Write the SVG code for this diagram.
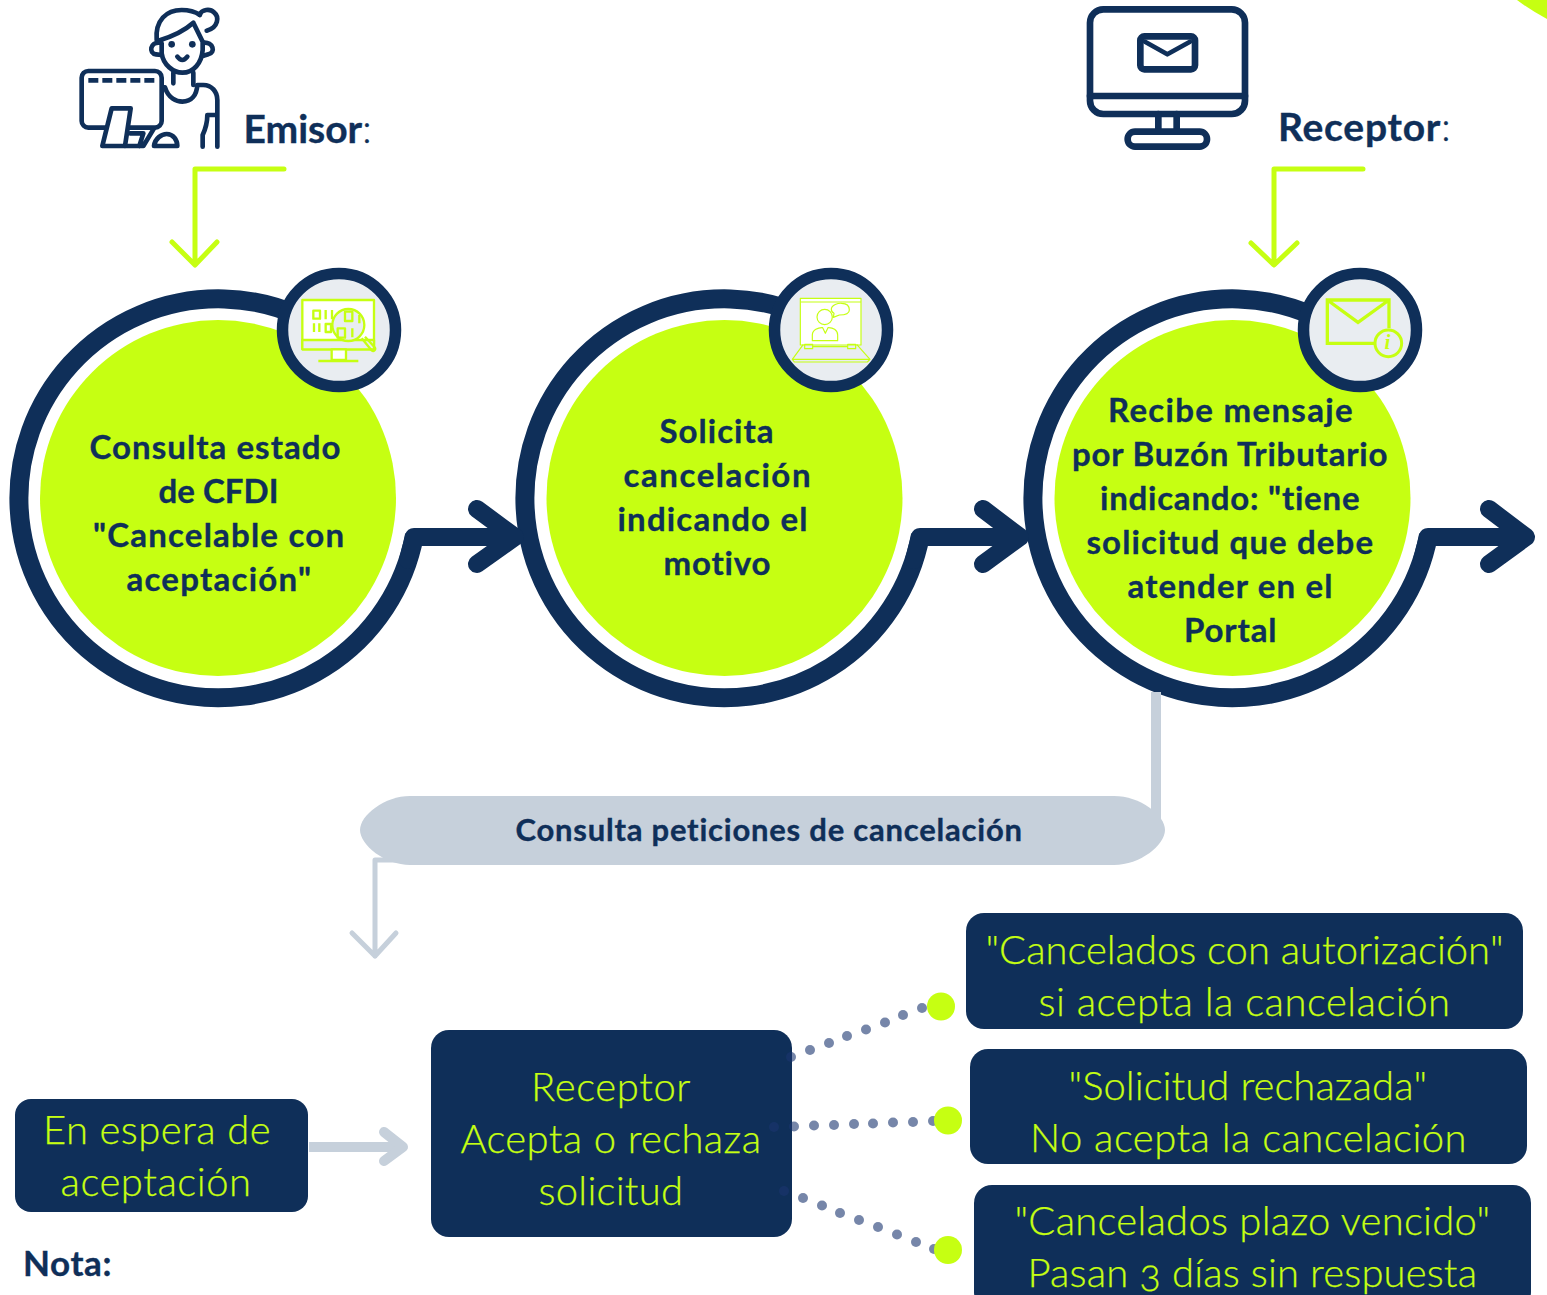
<svg xmlns="http://www.w3.org/2000/svg" width="1547" height="1295" viewBox="0 0 1547 1295">
<style>
text{font-family:"Lato","Liberation Sans",sans-serif;font-variant-ligatures:none;font-variant-numeric:oldstyle-nums}
.b{font-weight:700;fill:#0f2f59;font-size:33px;stroke:#0f2f59;stroke-width:.35}
.l{font-weight:300;fill:#c6ff12;font-size:40px;stroke:#c6ff12;stroke-width:.25}
.ring{fill:none;stroke:#0f2f59;stroke-width:19}
.disc{fill:#c6ff12}
.badge{fill:#e9edf1;stroke:#0f2f59;stroke-width:11.5}
.box{fill:#0f2f59}
.ic{fill:none;stroke:#c6ff12;stroke-linejoin:round}
.nv{fill:none;stroke:#0f2f59;stroke-linejoin:round;stroke-linecap:round}
.arr{fill:none;stroke:#0f2f59;stroke-width:18;stroke-linecap:round;stroke-linejoin:round}
.gl{fill:none;stroke:#c6ff12;stroke-width:5;stroke-linecap:round;stroke-linejoin:round}
.gy{fill:none;stroke:#c6d0db;stroke-linejoin:round}
.d{fill:#1a3570;opacity:.6}
.e{fill:#c6ff12}
</style>
<path d="M1517 0Q1530 10 1547 19V0Z" fill="#c6ff12"/>

<g id="emisor">
<g transform="translate(60 0) scale(.33333)" class="nv" stroke-width="14">
<path d="M290 120C285 60 320 30 365 30C385 30 405 35 420 45"/>
<path d="M418 44C426 28 450 25 462 37C478 50 476 82 440 92"/>
<path d="M295 122C335 110 370 95 400 68L428 125V150C425 190 400 218 367 218C340 218 310 195 305 160V130"/>
<path d="M300 128C270 125 265 160 288 163L305 165M430 128C460 125 468 158 445 163L428 168"/>
<circle cx="335" cy="133" r="10" fill="#0f2f59" stroke="none"/><circle cx="397" cy="133" r="10" fill="#0f2f59" stroke="none"/>
<path d="M352 170Q367 190 382 170"/>
<path d="M340 218V250M400 218V255"/>
<path d="M315 262C325 295 350 305 367 305C395 305 410 285 412 255H430C455 255 472 275 472 300V440"/>
<path d="M428 440V405C435 390 442 375 442 345H465"/>
<rect x="65" y="213" width="240" height="170" rx="20"/>
<path d="M85 241H283" stroke-dasharray="30 12" style="stroke-linecap:butt"/>
<path d="M127 438L155 325H212L195 438Z" fill="#fff"/>
<path d="M195 438H250L282 385M210 400H250L238 438"/>
<path d="M282 438C285 415 305 402 320 402C340 402 352 420 352 438Z"/>
</g>
<text x="243.500" y="143" class="b" style="font-size:39px" textLength="128">Emisor<tspan style="font-weight:300">:</tspan></text>
</g>

<g id="receptor">
<g transform="translate(1070 0) scale(.33333)" class="nv">
<rect x="60" y="28" width="465" height="314" rx="40" stroke-width="20"/>
<path d="M60 288H525" stroke-width="20"/>
<path d="M265 342V395M320 342V395" stroke-width="20"/>
<rect x="173" y="395" width="238" height="45" rx="22" stroke-width="20"/>
<rect x="211" y="109" width="164" height="99" rx="12" stroke-width="20"/>
<path d="M225 125L292 163L360 125" stroke-width="14"/>
</g>
<text x="1278" y="141" class="b" style="font-size:39px" textLength="172.500">Receptor<tspan style="font-weight:300">:</tspan></text>
</g>

<g id="nodo-consulta">
<path class="ring" d="M414.500 535A199.500 199.500 0 1 1 300.500 316.500"/>
<circle class="disc" cx="218" cy="498" r="178"/>
<circle class="badge" cx="339" cy="330" r="56.500"/>
<g transform="translate(270 260) scale(.33333)" class="ic" stroke-width="7">
<rect x="97" y="120" width="215" height="148" fill="#fff"/>
<rect x="97" y="240" width="215" height="28" fill="#e9edf1"/>
<rect x="185" y="268" width="43" height="32" fill="#fff"/>
<path d="M145 303H265"/>
<rect x="130" y="152" width="20" height="24"/><path d="M167 150V178M186 150V178M132 190V216M148 190V216M167 192h16v24h-16z"/>
<circle cx="235" cy="195" r="48" fill="#e9edf1"/>
<rect x="225" y="155" width="22" height="28"/><rect x="203" y="205" width="22" height="28"/><path d="M268 165V190M247 205V232"/>
<path d="M275 235L304 270C310 278 320 268 314 262L285 230" stroke-width="7"/>
</g>
<text class="b" x="89.500" y="458.500" textLength="251">Consulta estado</text>
<text class="b" x="158.500" y="502.500" textLength="120">de CFDI</text>
<text class="b" x="93" y="546.500" textLength="251">"Cancelable con</text>
<text class="b" x="126.500" y="590.500" textLength="184.500">aceptación"</text>
</g>

<g id="nodo-solicita">
<path class="ring" d="M920.500 535A199.500 199.500 0 1 1 806.500 316.500"/>
<circle class="disc" cx="724.500" cy="498" r="178"/>
<circle class="badge" cx="831" cy="330" r="56.500"/>
<g transform="translate(760 260) scale(.33333)" class="ic" stroke-width="3.500">
<rect x="121" y="115" width="182" height="140" fill="#fff"/>
<path d="M121 126H303"/>
<circle cx="194" cy="171" r="23"/>
<path d="M157 242V225C157 210 175 202 188 203L196 220L204 203C218 202 233 210 233 225V242Z"/>
<path d="M214 148C214 135 235 129 245 130C262 130 268 140 268 150C268 162 250 165 238 165L220 172L222 160C216 157 214 153 214 148Z" fill="#fff"/>
<path d="M130 253L97 298L103 306H322L330 298L290 253"/>
<path d="M97 298H330"/>
<rect x="134" y="253" width="24" height="13"/><rect x="263" y="253" width="24" height="13"/>
<path d="M158 260H263"/>
</g>
<text class="b" x="659.500" y="442.500" textLength="114">Solicita</text>
<text class="b" x="623.500" y="486.500" textLength="187">cancelación</text>
<text class="b" x="617.500" y="530.500" textLength="190">indicando el</text>
<text class="b" x="663.500" y="574.500" textLength="107">motivo</text>
</g>

<g id="nodo-recibe">
<path class="ring" d="M1428.500 535A199.500 199.500 0 1 1 1314.500 316.500"/>
<circle class="disc" cx="1232.500" cy="498" r="178"/>
<circle class="badge" cx="1360" cy="330" r="56.500"/>
<g transform="translate(1290 260) scale(.33333)">
<path class="ic" stroke-width="10" d="M297 205V120H112V250H255M112 120L204 187L297 120" style="stroke-linejoin:miter"/>
<circle class="ic" cx="295" cy="250" r="40" stroke-width="9" fill="#e9edf1"/>
</g>
<text x="1387.500" y="349" text-anchor="middle" style="font-family:'Liberation Serif',serif;font-size:21px;font-style:italic;font-weight:700;fill:#c6ff12">i</text>
<text class="b" x="1108" y="421.500" textLength="244.500">Recibe mensaje</text>
<text class="b" x="1072" y="465.500" textLength="315.500">por Buzón Tributario</text>
<text class="b" x="1100" y="509.500" textLength="259.500">indicando: "tiene</text>
<text class="b" x="1086.500" y="553.500" textLength="286.500">solicitud que debe</text>
<text class="b" x="1127.500" y="597.500" textLength="205">atender en el</text>
<text class="b" x="1184" y="641.500" textLength="92.500">Portal</text>
</g>

<g id="nodo-peticiones">
<path d="M410 796H1114C1140 796 1165 815 1165 830C1165 845 1140 865 1114 865H410C385 865 360 845 360 830C360 815 385 796 410 796Z" fill="#c6d0db"/>
<text class="b" style="font-size:31px" x="515.500" y="840.500" textLength="506.500">Consulta peticiones de cancelación</text>
</g>

<g id="nodo-espera">
<rect class="box" x="15" y="1099" width="293" height="113" rx="16"/>
<text class="l" x="43" y="1143.500" textLength="227.500">En espera de</text>
<text class="l" x="60.500" y="1195.500" textLength="190.500">aceptación</text>
</g>
<g id="nodo-acepta">
<rect class="box" x="431" y="1030" width="361" height="207" rx="18"/>
<text class="l" x="531" y="1100.500" textLength="159.500">Receptor</text>
<text class="l" x="460.500" y="1152.500" textLength="300.500">Acepta o rechaza</text>
<text class="l" x="538.500" y="1204.500" textLength="144.500">solicitud</text>
</g>
<g id="nodo-autorizacion">
<rect class="box" x="966" y="913" width="557" height="116" rx="18"/>
<text class="l" x="985.500" y="963.500" textLength="518">"Cancelados con autorización"</text>
<text class="l" x="1038.500" y="1015.500" textLength="411.500">si acepta la cancelación</text>
</g>
<g id="nodo-rechazada">
<rect class="box" x="970" y="1049" width="557" height="115" rx="18"/>
<text class="l" x="1068.500" y="1099.500" textLength="358.500">"Solicitud rechazada"</text>
<text class="l" x="1030" y="1151.500" textLength="436.500">No acepta la cancelación</text>
</g>
<g id="nodo-vencido">
<rect class="box" x="974" y="1185" width="557" height="125" rx="18"/>
<text class="l" x="1014.500" y="1234.500" textLength="475.500">"Cancelados plazo vencido"</text>
<text class="l" x="1027.500" y="1286.500" textLength="449.500">Pasan 3 días sin respuesta</text>
</g>
<g id="nota"><text class="b" style="font-size:35px" x="23" y="1275.500" textLength="88.500">Nota:</text></g>

<g id="connectors">
<path class="arr" d="M408 560L414 537H513M477 509L515 537L477 564"/>
<path class="arr" d="M914 560L920 537H1019M983 509L1020 537L983 564"/>
<path class="arr" d="M1422 560L1428 537H1524M1489 509L1526 537L1489 564"/>
<path class="gl" d="M284 169H195V264M172 242L195 265L217 242"/>
<path class="gl" d="M1363 169H1274V264M1251 243L1274 265L1297 243"/>
<path class="gy" stroke-width="10" d="M1156 692V822"/>
<path class="gy" stroke-width="5" style="stroke-linecap:round" d="M410 860H375V956M352 933L375 956L396 933"/>
<path class="gy" stroke-width="10" d="M309 1147H400"/>
<path class="gy" stroke-width="10" style="stroke-linecap:round" d="M384 1132L403 1147L384 1161"/>
<g>
<circle class="d" cx="791" cy="1057" r="5"/><circle class="d" cx="810" cy="1050" r="5"/><circle class="d" cx="829" cy="1043" r="5"/><circle class="d" cx="847" cy="1036" r="5"/><circle class="d" cx="866" cy="1029.500" r="5"/><circle class="d" cx="885" cy="1022.500" r="5"/><circle class="d" cx="903" cy="1015" r="5"/><circle class="d" cx="922" cy="1008" r="5"/>
<circle class="d" cx="774" cy="1127" r="5"/><circle class="d" cx="794" cy="1126.500" r="5"/><circle class="d" cx="814" cy="1125.500" r="5"/><circle class="d" cx="834" cy="1125" r="5"/><circle class="d" cx="854" cy="1124" r="5"/><circle class="d" cx="873" cy="1123.500" r="5"/><circle class="d" cx="893" cy="1122.500" r="5"/><circle class="d" cx="913" cy="1122" r="5"/><circle class="d" cx="933" cy="1121" r="5"/>
<circle class="d" cx="784" cy="1191" r="5"/><circle class="d" cx="803" cy="1198" r="5"/><circle class="d" cx="822" cy="1205.500" r="5"/><circle class="d" cx="840" cy="1213" r="5"/><circle class="d" cx="859" cy="1220" r="5"/><circle class="d" cx="878" cy="1227" r="5"/><circle class="d" cx="897" cy="1234.500" r="5"/><circle class="d" cx="916" cy="1242" r="5"/><circle class="d" cx="934" cy="1249" r="5"/>
<circle class="e" cx="941" cy="1006.500" r="14"/><circle class="e" cx="948" cy="1120.500" r="14"/><circle class="e" cx="948" cy="1250" r="14"/>
</g>
</g>
</svg>
